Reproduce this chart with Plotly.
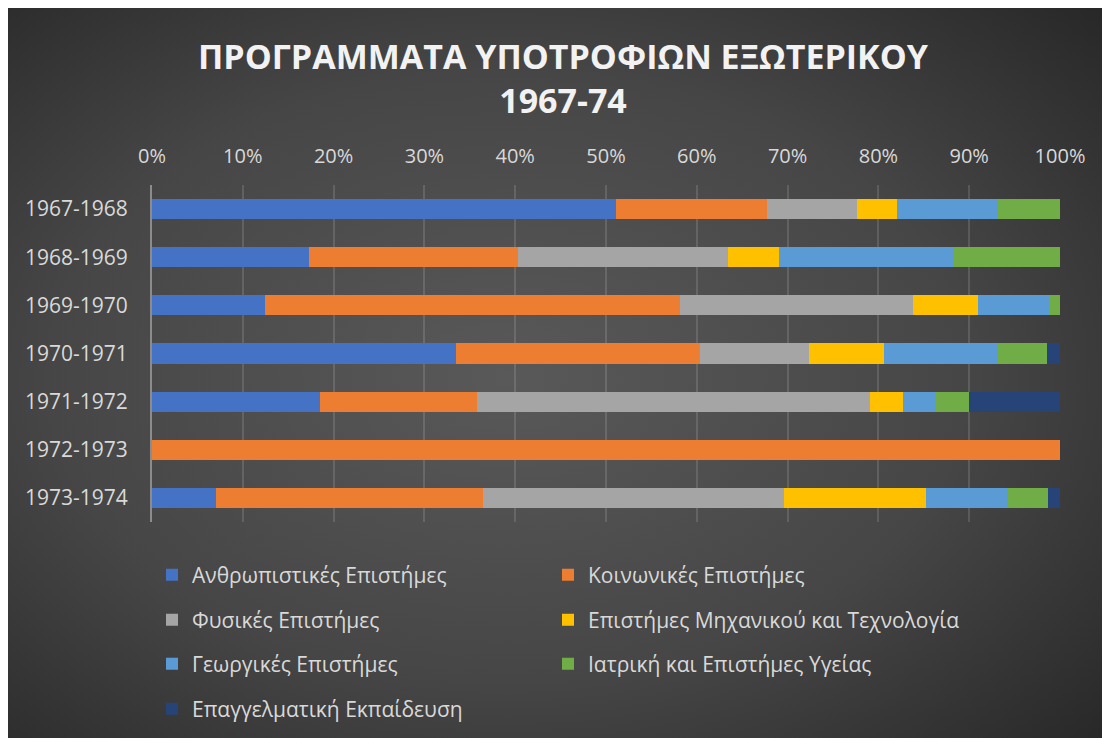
import base64
import plotly.graph_objects as go

years = ["1967-1968", "1968-1969", "1969-1970", "1970-1971", "1971-1972", "1972-1973", "1973-1974"]

humanities = [51.1, 17.3, 12.4, 33.5, 18.5, 0, 7.0]
social = [16.6, 23.0, 45.8, 26.8, 17.3, 100, 29.4]
natural = [9.9, 23.1, 25.6, 12.0, 43.2, 0, 33.1]
engineering = [4.5, 5.7, 7.2, 8.2, 3.6, 0, 15.6]
agricultural = [11.1, 19.2, 7.8, 12.6, 3.7, 0, 9.0]
medical = [6.8, 11.7, 1.2, 5.4, 3.6, 0, 4.4]
vocational = [0, 0, 0, 1.4, 10.0, 0, 1.3]

series_names = [
    "Ανθρωπιστικές Επιστήμες",
    "Κοινωνικές Επιστήμες",
    "Φυσικές Επιστήμες",
    "Επιστήμες Μηχανικού και Τεχνολογία",
    "Γεωργικές Επιστήμες",
    "Ιατρική και Επιστήμες Υγείας",
    "Επαγγελματική Εκπαίδευση",
]
series_values = [humanities, social, natural, engineering, agricultural, medical, vocational]
colors = ["#4472C4", "#ED7D31", "#A5A5A5", "#FFC000", "#5B9BD5", "#70AD47", "#264478"]

W, H = 1110, 738
L, R, T, B = 144, 58, 177, 224
PW, PH = W - L - R, H - T - B

fig = go.Figure()

leg_pos = [(0, 0), (1, 0), (0, 1), (1, 1), (0, 2), (1, 2), (0, 3)]
col_x = [144, 540]
row_y = [567, 612, 656, 701]

legend_layouts = {}
for i, (name, vals, col) in enumerate(zip(series_names, series_values, colors)):
    lname = "legend" if i == 0 else f"legend{i+1}"
    fig.add_trace(go.Bar(
        y=years, x=vals, name=name, orientation="h",
        marker=dict(color=col, line=dict(width=0)),
        legend=lname, showlegend=True,
    ))
    c, r = leg_pos[i]
    legend_layouts[lname] = dict(
        x=col_x[c] / W, y=1 - row_y[r] / H, xref="container", yref="container",
        xanchor="left", yanchor="middle", orientation="v",
        bgcolor="rgba(0,0,0,0)", borderwidth=0,
        font=dict(family="Open Sans", size=21, color="#d9d9d9"),
        itemwidth=30,
    )

svg = f'''<svg xmlns="http://www.w3.org/2000/svg" width="{W}" height="{H}">
<defs><radialGradient id="g" cx="0.45" cy="0.5" r="0.75">
<stop offset="0" stop-color="#595959"/><stop offset="0.55" stop-color="#464646"/><stop offset="1" stop-color="#262626"/>
</radialGradient></defs><rect width="{W}" height="{H}" fill="url(#g)"/></svg>'''
svg_uri = "data:image/svg+xml;base64," + base64.b64encode(svg.encode()).decode()

fig.update_layout(
    width=W, height=H, autosize=False,
    margin=dict(l=L, r=R, t=T, b=B, autoexpand=False),
    barmode="stack", barnorm="percent", bargap=0.58,
    paper_bgcolor="#3a3a3a", plot_bgcolor="rgba(0,0,0,0)",
    showlegend=True,
    title=dict(
        text="ΠΡΟΓΡΑΜΜΑΤΑ ΥΠΟΤΡΟΦΙΩΝ ΕΞΩΤΕΡΙΚΟΥ<br>1967-74",
        x=0.5, xanchor="center", xref="container",
        y=1 - 61 / H, yanchor="middle", yref="container",
        font=dict(family="Open Sans", size=34, color="#f2f2f2", weight="bold"),
    ),
    images=[dict(
        source=svg_uri, xref="paper", yref="paper",
        x=-L / PW, y=1 + T / PH, sizex=W / PW, sizey=H / PH,
        xanchor="left", yanchor="top", sizing="stretch", layer="below",
    )],
    xaxis=dict(
        side="top", range=[0, 100], dtick=10, ticksuffix="%",
        showgrid=True, gridcolor="rgba(255,255,255,0.13)", gridwidth=2,
        zeroline=False, showline=False, ticks="",
        ticklabelstandoff=17,
        tickfont=dict(family="Open Sans", size=20, color="#d9d9d9"),
        fixedrange=True, automargin=False,
    ),
    yaxis=dict(
        autorange="reversed", showline=True, linecolor="#8c8c8c", linewidth=2,
        showgrid=False, ticks="", ticklabelstandoff=18,
        tickfont=dict(family="Open Sans", size=21, color="#d9d9d9"),
        fixedrange=True, automargin=False,
    ),
    **legend_layouts,
)

fig.write_html("out.html")
